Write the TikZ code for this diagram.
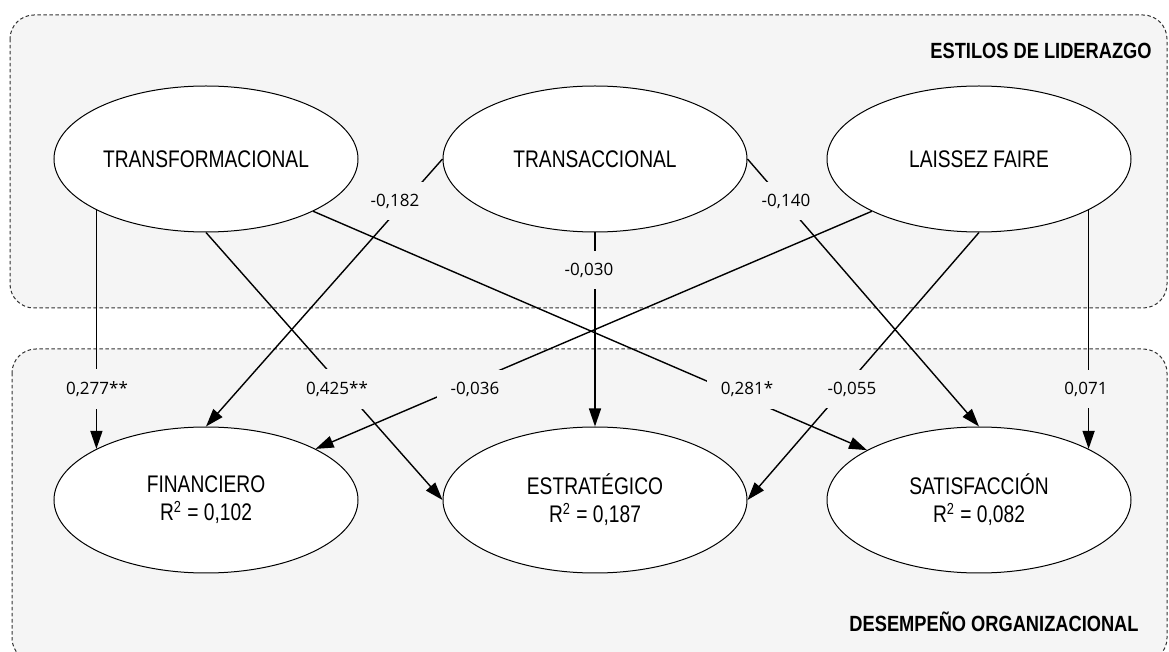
\documentclass[tikz,border=0pt]{standalone}
\usepackage{fontspec}
\setmainfont{Liberation Sans}
\newfontfamily\condf[FakeStretch=0.8]{Liberation Sans}
\newfontfamily\headf[FakeStretch=0.83]{Liberation Sans}
\newfontfamily\numf{Open Sans}
\usetikzlibrary{shapes.geometric,arrows.meta}
\definecolor{panel}{HTML}{F5F5F5}
\definecolor{panelline}{HTML}{333333}
\tikzset{
  panelbox/.style={draw=panelline, fill=panel, dash pattern=on 1.75pt off 1.25pt, line width=0.5pt, rounded corners=12pt},
  construct/.style={ellipse, draw, fill=white, line width=0.5pt, minimum width=152pt, minimum height=73pt, inner sep=1pt, align=center, font=\condf\fontsize{12}{14}\selectfont},
  conn/.style={line width=0.7pt, -{Triangle[length=9pt,width=6pt]}},
  coef/.style={fill=panel, inner xsep=7pt, inner ysep=6pt, font=\numf\fontsize{8.5}{10}\selectfont},
  heading/.style={anchor=east, inner sep=0pt, font=\headf\bfseries\fontsize{11}{13}\selectfont}
}
\begin{document}
\begin{tikzpicture}[x=0.5pt,y=-0.5pt]
\useasboundingbox (0,0) rectangle (1169,652);
\clip (0,0) rectangle (1169,652);
\draw[panelbox] (10,15) rectangle (1167,308);
\draw[panelbox] (12,349) rectangle (1167,662);
\node[heading] (h1) at (1152,51) {ESTILOS DE LIDERAZGO};
\node[heading] (h2) at (1139,622) {DESEMPEÑO ORGANIZACIONAL};

\node[construct] (tf) at (206,159) {TRANSFORMACIONAL};
\node[construct] (ta) at (595,159) {TRANSACCIONAL};
\node[construct] (lf) at (979,159) {LAISSEZ FAIRE};
\node[construct] (fi) at (206,500) {FINANCIERO\\R\textsuperscript{2} = 0,102};
\node[construct] (es) at (595,500) {ESTRATÉGICO\\R\textsuperscript{2} = 0,187};
\node[construct] (sa) at (979,500) {SATISFACCIÓN\\R\textsuperscript{2} = 0,082};

\draw[conn] (tf.205) -- (fi.155);
\draw[conn] (tf.south) -- (es.west);
\draw[conn] (tf.334) -- (sa.156);
\draw[conn] (ta.west) -- (fi.north);
\draw[conn] (ta.south) -- (es.north);
\draw[conn] (ta.east) -- (sa.north);
\draw[conn] (lf.206) -- (fi.25);
\draw[conn] (lf.south) -- (es.east);
\draw[conn] (lf.335) -- (sa.25);

\node[coef] (c1) at (97,389) {0,277**};
\node[coef] (c2) at (337,389) {0,425**};
\node[coef] (c3) at (747,389) {0,281*};
\node[coef] (c4) at (475,389) {-0,036};
\node[coef] (c5) at (852,389) {-0,055};
\node[coef] (c6) at (1086,389) {0,071};
\node[coef] (c7) at (395,201) {-0,182};
\node[coef] (c8) at (589,270) {-0,030};
\node[coef] (c9) at (786,201) {-0,140};
\end{tikzpicture}
\end{document}
